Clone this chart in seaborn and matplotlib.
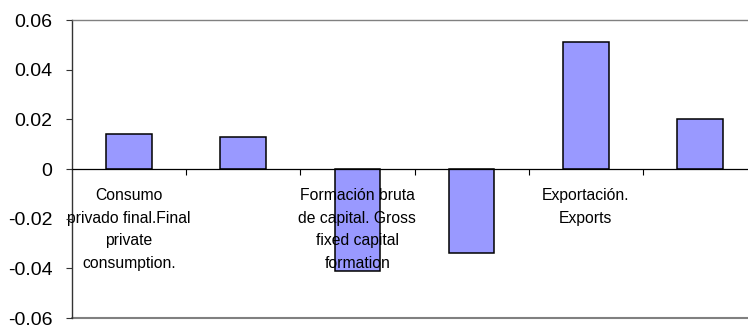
import matplotlib
matplotlib.use("Agg")
import matplotlib.pyplot as plt
import seaborn as sns
import pandas as pd
from matplotlib.ticker import FuncFormatter, FixedLocator

# Contribution of each demand component
positions = [0, 1, 2, 3, 4, 5]
values = [0.014, 0.013, -0.041, -0.034, 0.051, 0.020]
tick_labels = [
    "Consumo\nprivado final.Final\nprivate\nconsumption.",
    "",
    "Formación bruta\nde capital. Gross\nfixed capital\nformation",
    "",
    "Exportación.\nExports",
    "",
]
y_ticks = [-0.06, -0.04, -0.02, 0, 0.02, 0.04, 0.06]

sns.set_theme(style="white")
plt.rcParams["font.family"] = ["Liberation Sans", "DejaVu Sans"]
plt.rcParams["text.color"] = "black"
plt.rcParams["xtick.color"] = "black"
plt.rcParams["ytick.color"] = "black"

df = pd.DataFrame({"pos": positions, "value": values})

fig = plt.figure(figsize=(7.48, 3.29), dpi=100)
ax = fig.add_axes([0.0963, 0.0334, 1.012 - 0.0963, 0.939 - 0.0334])

sns.barplot(data=df, x="pos", y="value", color="#9999FF", saturation=1,
            edgecolor="black", linewidth=1.1, width=0.4, ax=ax, zorder=1)
# category labels are written over the bars
ax.set_axisbelow(False)

ax.set_ylim(y_ticks[0], y_ticks[-1])
ax.set_xlim(-0.5, len(positions) - 0.5)
ax.set_yticks(y_ticks)
ax.yaxis.set_major_formatter(FuncFormatter(lambda v, _: f"{round(v, 2):g}" if abs(v) > 1e-9 else "0"))
ax.tick_params(axis="y", which="major", direction="out", length=4, width=0.8,
               color="#333333", labelcolor="black", labelsize=14, pad=10, left=True)

# category axis sits on the zero line
ax.spines["bottom"].set_position(("data", 0))
ax.spines["bottom"].set_color("black")
ax.spines["bottom"].set_linewidth(0.9)
ax.set_xticks(positions)
ax.set_xticklabels(tick_labels, fontsize=11.3, linespacing=1.62)
ax.xaxis.set_minor_locator(FixedLocator([p + 0.5 for p in positions[:-1]]))
ax.tick_params(axis="x", which="major", length=0, pad=14, labelcolor="black")
ax.tick_params(axis="x", which="minor", direction="out", length=4, width=0.8,
               color="black", bottom=True)

# plot-area frame
ax.spines["left"].set_color("#333333")
ax.spines["left"].set_linewidth(1.0)
ax.spines["top"].set_color("#808080")
ax.spines["top"].set_linewidth(1.0)
ax.spines["right"].set_visible(False)
ax.axhline(y_ticks[0], color="#808080", linewidth=1.5, clip_on=False)

ax.set_xlabel("")
ax.set_ylabel("")

fig.savefig("out.png", dpi=100)
